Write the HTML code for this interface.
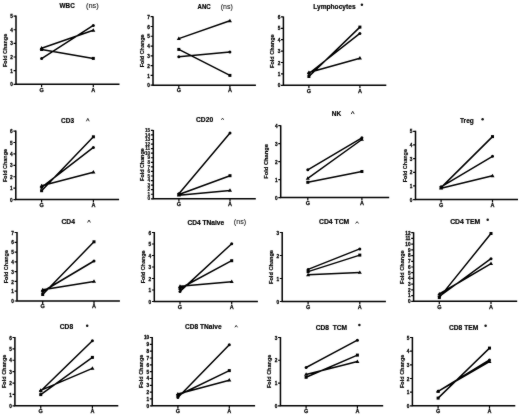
<!DOCTYPE html>
<html><head><meta charset="utf-8"><style>
html,body{margin:0;padding:0;background:#fff;}
body{width:520px;height:415px;overflow:hidden;}
#w{filter:grayscale(1);width:520px;height:415px;}
svg{display:block;font-family:"Liberation Sans",sans-serif;}
</style></head><body><div id="w">
<svg width="520" height="415" viewBox="0 0 520 415">
<defs><filter id="bl" x="0" y="0" width="520" height="415" filterUnits="userSpaceOnUse" color-interpolation-filters="sRGB"><feConvolveMatrix order="3" kernelMatrix="1 2 1 2 36 2 1 2 1" divisor="48" edgeMode="duplicate"/></filter></defs>
<g filter="url(#bl)">
<rect width="520" height="415" fill="#fff"/>
<g><path d="M16.00 15.60V84.30H119.50" fill="none" stroke="#000" stroke-width="1.5"/><path d="M13.60 84.30H16.00 M13.60 70.66H16.00 M13.60 57.02H16.00 M13.60 43.38H16.00 M13.60 29.74H16.00 M13.60 16.10H16.00" stroke="#000" stroke-width="1.2"/><path d="M41.60 84.30V87.30M93.30 84.30V87.30" stroke="#000" stroke-width="1.2"/><g transform="scale(0.8 1)" font-size="5.9" text-anchor="end" font-weight="bold" fill="#000" stroke="#000" stroke-width="0.3"><text x="16.12" y="86.42">0</text><text x="16.12" y="72.78">1</text><text x="16.12" y="59.14">2</text><text x="16.12" y="45.50">3</text><text x="16.12" y="31.86">4</text><text x="16.12" y="18.22">5</text></g><g font-size="5.5" text-anchor="middle" font-weight="bold" fill="#000" stroke="#000" stroke-width="0.25"><text x="41.60" y="91.50">G</text><text x="93.30" y="91.50">A</text></g><text transform="translate(6.56 50.45) rotate(-90)" text-anchor="middle" font-size="5.60" font-weight="bold" fill="#000" stroke="#000" stroke-width="0.2" textLength="33.3" lengthAdjust="spacingAndGlyphs">Fold Change</text><text x="59.60" y="7.70" font-size="6.4" font-weight="bold" fill="#000" stroke="#000" stroke-width="0.18" textLength="15.10" lengthAdjust="spacingAndGlyphs" style="white-space:pre">WBC</text><text x="86.00" y="7.72" font-size="6.88" fill="#1a1a1a" stroke="#1a1a1a" stroke-width="0.1" textLength="12.75" lengthAdjust="spacingAndGlyphs">(ns)</text><path d="M41.60 58.60L93.30 25.40 M41.60 48.20L93.30 30.30 M41.60 49.50L93.30 58.40" stroke="#000" stroke-width="1.5" fill="none"/><g fill="#000"><circle cx="41.60" cy="58.60" r="1.50"/><circle cx="93.30" cy="25.40" r="1.50"/><path d="M41.60 46.10L43.62 49.55L39.58 49.55Z"/><path d="M93.30 28.20L95.33 31.65L91.27 31.65Z"/><rect x="40.10" y="48.00" width="3.00" height="3.00"/><rect x="91.80" y="56.90" width="3.00" height="3.00"/></g></g>
<g><path d="M153.00 16.20V85.20H255.90" fill="none" stroke="#000" stroke-width="1.5"/><path d="M150.60 85.20H153.00 M150.60 75.41H153.00 M150.60 65.63H153.00 M150.60 55.84H153.00 M150.60 46.06H153.00 M150.60 36.27H153.00 M150.60 26.49H153.00 M150.60 16.70H153.00" stroke="#000" stroke-width="1.2"/><path d="M178.80 85.20V88.20M229.90 85.20V88.20" stroke="#000" stroke-width="1.2"/><g transform="scale(0.8 1)" font-size="5.9" text-anchor="end" font-weight="bold" fill="#000" stroke="#000" stroke-width="0.3"><text x="187.38" y="87.32">0</text><text x="187.38" y="77.54">1</text><text x="187.38" y="67.75">2</text><text x="187.38" y="57.97">3</text><text x="187.38" y="48.18">4</text><text x="187.38" y="38.40">5</text><text x="187.38" y="28.61">6</text><text x="187.38" y="18.82">7</text></g><g font-size="5.5" text-anchor="middle" font-weight="bold" fill="#000" stroke="#000" stroke-width="0.25"><text x="178.80" y="92.40">G</text><text x="229.90" y="92.40">A</text></g><text transform="translate(143.89 50.85) rotate(-90)" text-anchor="middle" font-size="5.53" font-weight="bold" fill="#000" stroke="#000" stroke-width="0.2" textLength="32.9" lengthAdjust="spacingAndGlyphs">Fold Change</text><text x="197.50" y="8.85" font-size="6.4" font-weight="bold" fill="#000" stroke="#000" stroke-width="0.18" textLength="13.20" lengthAdjust="spacingAndGlyphs" style="white-space:pre">ANC</text><text x="220.80" y="9.21" font-size="7.96" fill="#1a1a1a" stroke="#1a1a1a" stroke-width="0.1" textLength="12.00" lengthAdjust="spacingAndGlyphs">(ns)</text><path d="M178.80 38.60L229.90 20.80 M178.80 49.40L229.90 75.40 M178.80 56.70L229.90 52.00" stroke="#000" stroke-width="1.5" fill="none"/><g fill="#000"><path d="M178.80 36.50L180.83 39.95L176.78 39.95Z"/><path d="M229.90 18.70L231.93 22.15L227.88 22.15Z"/><rect x="177.30" y="47.90" width="3.00" height="3.00"/><rect x="228.40" y="73.90" width="3.00" height="3.00"/><circle cx="178.80" cy="56.70" r="1.50"/><circle cx="229.90" cy="52.00" r="1.50"/></g></g>
<g><path d="M283.40 16.40V85.30H386.30" fill="none" stroke="#000" stroke-width="1.5"/><path d="M281.00 85.30H283.40 M281.00 73.90H283.40 M281.00 62.50H283.40 M281.00 51.10H283.40 M281.00 39.70H283.40 M281.00 28.30H283.40 M281.00 16.90H283.40" stroke="#000" stroke-width="1.2"/><path d="M308.90 85.30V88.30M359.90 85.30V88.30" stroke="#000" stroke-width="1.2"/><g transform="scale(0.8 1)" font-size="5.9" text-anchor="end" font-weight="bold" fill="#000" stroke="#000" stroke-width="0.3"><text x="350.37" y="87.42">0</text><text x="350.37" y="76.02">1</text><text x="350.37" y="64.62">2</text><text x="350.37" y="53.22">3</text><text x="350.37" y="41.82">4</text><text x="350.37" y="30.42">5</text><text x="350.37" y="19.02">6</text></g><g font-size="5.5" text-anchor="middle" font-weight="bold" fill="#000" stroke="#000" stroke-width="0.25"><text x="308.90" y="92.50">G</text><text x="359.90" y="92.50">A</text></g><text transform="translate(274.38 51.20) rotate(-90)" text-anchor="middle" font-size="5.65" font-weight="bold" fill="#000" stroke="#000" stroke-width="0.2" textLength="33.6" lengthAdjust="spacingAndGlyphs">Fold Change</text><text x="313.20" y="8.65" font-size="6.4" font-weight="bold" fill="#000" stroke="#000" stroke-width="0.18" textLength="42.40" lengthAdjust="spacingAndGlyphs" style="white-space:pre">Lymphocytes</text><circle cx="361.90" cy="4.80" r="1.25" fill="#111"/><path d="M308.90 76.50L359.90 27.10 M308.90 73.50L359.90 33.40 M308.90 72.50L359.90 58.20" stroke="#000" stroke-width="1.5" fill="none"/><g fill="#000"><rect x="307.40" y="75.00" width="3.00" height="3.00"/><rect x="358.40" y="25.60" width="3.00" height="3.00"/><circle cx="308.90" cy="73.50" r="1.50"/><circle cx="359.90" cy="33.40" r="1.50"/><path d="M308.90 70.40L310.92 73.85L306.88 73.85Z"/><path d="M359.90 56.10L361.92 59.55L357.88 59.55Z"/></g></g>
<g><path d="M15.80 130.60V199.60H119.10" fill="none" stroke="#000" stroke-width="1.5"/><path d="M13.40 199.60H15.80 M13.40 188.18H15.80 M13.40 176.77H15.80 M13.40 165.35H15.80 M13.40 153.93H15.80 M13.40 142.52H15.80 M13.40 131.10H15.80" stroke="#000" stroke-width="1.2"/><path d="M41.60 199.60V202.60M93.40 199.60V202.60" stroke="#000" stroke-width="1.2"/><g transform="scale(0.8 1)" font-size="5.9" text-anchor="end" font-weight="bold" fill="#000" stroke="#000" stroke-width="0.3"><text x="15.88" y="201.72">0</text><text x="15.88" y="190.31">1</text><text x="15.88" y="178.89">2</text><text x="15.88" y="167.47">3</text><text x="15.88" y="156.06">4</text><text x="15.88" y="144.64">5</text><text x="15.88" y="133.22">6</text></g><g font-size="5.5" text-anchor="middle" font-weight="bold" fill="#000" stroke="#000" stroke-width="0.25"><text x="41.60" y="206.80">G</text><text x="93.40" y="206.80">A</text></g><text transform="translate(7.05 165.50) rotate(-90)" text-anchor="middle" font-size="5.55" font-weight="bold" fill="#000" stroke="#000" stroke-width="0.2" textLength="33.0" lengthAdjust="spacingAndGlyphs">Fold Change</text><text x="61.00" y="123.10" font-size="6.4" font-weight="bold" fill="#000" stroke="#000" stroke-width="0.18" textLength="13.00" lengthAdjust="spacingAndGlyphs" style="white-space:pre">CD3</text><path d="M86.40 121.30L87.80 118.40L89.20 121.30" fill="none" stroke="#333" stroke-width="1"/><path d="M41.60 190.70L93.40 136.80 M41.60 187.40L93.40 147.40 M41.60 185.80L93.40 172.20" stroke="#000" stroke-width="1.5" fill="none"/><g fill="#000"><rect x="40.10" y="189.20" width="3.00" height="3.00"/><rect x="91.90" y="135.30" width="3.00" height="3.00"/><circle cx="41.60" cy="187.40" r="1.50"/><circle cx="93.40" cy="147.40" r="1.50"/><path d="M41.60 183.70L43.62 187.15L39.58 187.15Z"/><path d="M93.40 170.10L95.43 173.55L91.38 173.55Z"/></g></g>
<g><path d="M153.30 129.90V198.80H255.80" fill="none" stroke="#000" stroke-width="1.5"/><path d="M150.90 198.80H153.30 M150.90 194.24H153.30 M150.90 189.68H153.30 M150.90 185.12H153.30 M150.90 180.56H153.30 M150.90 176.00H153.30 M150.90 171.44H153.30 M150.90 166.88H153.30 M150.90 162.32H153.30 M150.90 157.76H153.30 M150.90 153.20H153.30 M150.90 148.64H153.30 M150.90 144.08H153.30 M150.90 139.52H153.30 M150.90 134.96H153.30 M150.90 130.40H153.30" stroke="#000" stroke-width="1.2"/><path d="M178.90 198.80V201.80M230.00 198.80V201.80" stroke="#000" stroke-width="1.2"/><g transform="scale(1.0 1)" font-size="4.7" text-anchor="end" font-weight="bold" fill="#000" stroke="#000" stroke-width="0.15"><text x="150.20" y="200.49">0</text><text x="150.20" y="195.93">1</text><text x="150.20" y="191.37">2</text><text x="150.20" y="186.81">3</text><text x="150.20" y="182.25">4</text><text x="150.20" y="177.69">5</text><text x="150.20" y="173.13">6</text><text x="150.20" y="168.57">7</text><text x="150.20" y="164.01">8</text><text x="150.20" y="159.45">9</text><text x="150.20" y="154.89">10</text><text x="150.20" y="150.33">11</text><text x="150.20" y="145.77">12</text><text x="150.20" y="141.21">13</text><text x="150.20" y="136.65">14</text><text x="150.20" y="132.09">15</text></g><g font-size="5.5" text-anchor="middle" font-weight="bold" fill="#000" stroke="#000" stroke-width="0.25"><text x="178.90" y="206.00">G</text><text x="230.00" y="206.00">A</text></g><text transform="translate(144.23 164.60) rotate(-90)" text-anchor="middle" font-size="5.48" font-weight="bold" fill="#000" stroke="#000" stroke-width="0.2" textLength="32.6" lengthAdjust="spacingAndGlyphs">Fold Change</text><text x="196.00" y="121.70" font-size="6.4" font-weight="bold" fill="#000" stroke="#000" stroke-width="0.18" textLength="17.10" lengthAdjust="spacingAndGlyphs" style="white-space:pre">CD20</text><path d="M221.40 119.80L222.55 118.10L223.70 119.80" fill="none" stroke="#333" stroke-width="1"/><path d="M178.90 193.70L230.00 133.10 M178.90 194.50L230.00 175.70 M178.90 195.20L230.00 190.40" stroke="#000" stroke-width="1.5" fill="none"/><g fill="#000"><circle cx="178.90" cy="193.70" r="1.50"/><circle cx="230.00" cy="133.10" r="1.50"/><rect x="177.40" y="193.00" width="3.00" height="3.00"/><rect x="228.50" y="174.20" width="3.00" height="3.00"/><path d="M178.90 193.10L180.93 196.55L176.88 196.55Z"/><path d="M230.00 188.30L232.03 191.75L227.97 191.75Z"/></g></g>
<g><path d="M280.70 125.20V197.60H389.20" fill="none" stroke="#000" stroke-width="1.5"/><path d="M278.30 197.60H280.70 M278.30 179.62H280.70 M278.30 161.65H280.70 M278.30 143.68H280.70 M278.30 125.70H280.70" stroke="#000" stroke-width="1.2"/><path d="M307.80 197.60V200.60M361.90 197.60V200.60" stroke="#000" stroke-width="1.2"/><g transform="scale(0.8 1)" font-size="5.9" text-anchor="end" font-weight="bold" fill="#000" stroke="#000" stroke-width="0.3"><text x="347.00" y="199.72">0</text><text x="347.00" y="181.75">1</text><text x="347.00" y="163.77">2</text><text x="347.00" y="145.80">3</text><text x="347.00" y="127.82">4</text></g><g font-size="5.5" text-anchor="middle" font-weight="bold" fill="#000" stroke="#000" stroke-width="0.25"><text x="307.80" y="204.80">G</text><text x="361.90" y="204.80">A</text></g><text transform="translate(268.23 161.40) rotate(-90)" text-anchor="middle" font-size="5.85" font-weight="bold" fill="#000" stroke="#000" stroke-width="0.2" textLength="34.8" lengthAdjust="spacingAndGlyphs">Fold Change</text><text x="331.80" y="115.90" font-size="6.4" font-weight="bold" fill="#000" stroke="#000" stroke-width="0.18" textLength="9.40" lengthAdjust="spacingAndGlyphs" style="white-space:pre">NK</text><path d="M351.20 114.10L352.70 111.30L354.20 114.10" fill="none" stroke="#333" stroke-width="1"/><path d="M307.80 169.80L361.90 137.80 M307.80 178.30L361.90 139.50 M307.80 182.30L361.90 171.50" stroke="#000" stroke-width="1.5" fill="none"/><g fill="#000"><circle cx="307.80" cy="169.80" r="1.50"/><circle cx="361.90" cy="137.80" r="1.50"/><path d="M307.80 176.20L309.82 179.65L305.78 179.65Z"/><path d="M361.90 137.40L363.92 140.85L359.88 140.85Z"/><rect x="306.30" y="180.80" width="3.00" height="3.00"/><rect x="360.40" y="170.00" width="3.00" height="3.00"/></g></g>
<g><path d="M415.50 130.80V199.60H518.00" fill="none" stroke="#000" stroke-width="1.5"/><path d="M413.10 199.60H415.50 M413.10 185.94H415.50 M413.10 172.28H415.50 M413.10 158.62H415.50 M413.10 144.96H415.50 M413.10 131.30H415.50" stroke="#000" stroke-width="1.2"/><path d="M441.10 199.60V202.60M492.50 199.60V202.60" stroke="#000" stroke-width="1.2"/><g transform="scale(0.8 1)" font-size="5.9" text-anchor="end" font-weight="bold" fill="#000" stroke="#000" stroke-width="0.3"><text x="515.50" y="201.72">0</text><text x="515.50" y="188.06">1</text><text x="515.50" y="174.40">2</text><text x="515.50" y="160.74">3</text><text x="515.50" y="147.08">4</text><text x="515.50" y="133.42">5</text></g><g font-size="5.5" text-anchor="middle" font-weight="bold" fill="#000" stroke="#000" stroke-width="0.25"><text x="441.10" y="206.80">G</text><text x="492.50" y="206.80">A</text></g><text transform="translate(406.86 165.65) rotate(-90)" text-anchor="middle" font-size="5.60" font-weight="bold" fill="#000" stroke="#000" stroke-width="0.2" textLength="33.3" lengthAdjust="spacingAndGlyphs">Fold Change</text><text x="460.00" y="123.10" font-size="6.4" font-weight="bold" fill="#000" stroke="#000" stroke-width="0.18" textLength="13.75" lengthAdjust="spacingAndGlyphs" style="white-space:pre">Treg</text><circle cx="482.60" cy="119.20" r="1.25" fill="#111"/><path d="M441.10 187.60L492.50 136.60 M441.10 186.80L492.50 156.30 M441.10 188.20L492.50 175.80" stroke="#000" stroke-width="1.5" fill="none"/><g fill="#000"><rect x="439.60" y="186.10" width="3.00" height="3.00"/><rect x="491.00" y="135.10" width="3.00" height="3.00"/><circle cx="441.10" cy="186.80" r="1.50"/><circle cx="492.50" cy="156.30" r="1.50"/><path d="M441.10 186.10L443.12 189.55L439.08 189.55Z"/><path d="M492.50 173.70L494.52 177.15L490.48 177.15Z"/></g></g>
<g><path d="M17.00 232.00V301.00H119.90" fill="none" stroke="#000" stroke-width="1.5"/><path d="M14.60 301.00H17.00 M14.60 291.21H17.00 M14.60 281.43H17.00 M14.60 271.64H17.00 M14.60 261.86H17.00 M14.60 252.07H17.00 M14.60 242.29H17.00 M14.60 232.50H17.00" stroke="#000" stroke-width="1.2"/><path d="M42.70 301.00V304.00M94.00 301.00V304.00" stroke="#000" stroke-width="1.2"/><g transform="scale(0.8 1)" font-size="5.9" text-anchor="end" font-weight="bold" fill="#000" stroke="#000" stroke-width="0.3"><text x="17.38" y="303.12">0</text><text x="17.38" y="293.34">1</text><text x="17.38" y="283.55">2</text><text x="17.38" y="273.77">3</text><text x="17.38" y="263.98">4</text><text x="17.38" y="254.20">5</text><text x="17.38" y="244.41">6</text><text x="17.38" y="234.62">7</text></g><g font-size="5.5" text-anchor="middle" font-weight="bold" fill="#000" stroke="#000" stroke-width="0.25"><text x="42.70" y="308.20">G</text><text x="94.00" y="308.20">A</text></g><text transform="translate(7.76 266.65) rotate(-90)" text-anchor="middle" font-size="5.60" font-weight="bold" fill="#000" stroke="#000" stroke-width="0.2" textLength="33.3" lengthAdjust="spacingAndGlyphs">Fold Change</text><text x="61.50" y="224.40" font-size="6.4" font-weight="bold" fill="#000" stroke="#000" stroke-width="0.18" textLength="13.50" lengthAdjust="spacingAndGlyphs" style="white-space:pre">CD4</text><path d="M87.60 222.50L89.00 220.00L90.40 222.50" fill="none" stroke="#333" stroke-width="1"/><path d="M42.70 294.50L94.00 241.80 M42.70 291.50L94.00 261.00 M42.70 289.80L94.00 281.40" stroke="#000" stroke-width="1.5" fill="none"/><g fill="#000"><rect x="41.20" y="293.00" width="3.00" height="3.00"/><rect x="92.50" y="240.30" width="3.00" height="3.00"/><circle cx="42.70" cy="291.50" r="1.50"/><circle cx="94.00" cy="261.00" r="1.50"/><path d="M42.70 287.70L44.73 291.15L40.68 291.15Z"/><path d="M94.00 279.30L96.03 282.75L91.97 282.75Z"/></g></g>
<g><path d="M154.30 232.00V301.50H257.90" fill="none" stroke="#000" stroke-width="1.5"/><path d="M151.90 301.50H154.30 M151.90 290.00H154.30 M151.90 278.50H154.30 M151.90 267.00H154.30 M151.90 255.50H154.30 M151.90 244.00H154.30 M151.90 232.50H154.30" stroke="#000" stroke-width="1.2"/><path d="M180.00 301.50V304.50M231.70 301.50V304.50" stroke="#000" stroke-width="1.2"/><g transform="scale(0.8 1)" font-size="5.9" text-anchor="end" font-weight="bold" fill="#000" stroke="#000" stroke-width="0.3"><text x="189.00" y="303.62">0</text><text x="189.00" y="292.12">1</text><text x="189.00" y="280.62">2</text><text x="189.00" y="269.12">3</text><text x="189.00" y="257.62">4</text><text x="189.00" y="246.12">5</text><text x="189.00" y="234.62">6</text></g><g font-size="5.5" text-anchor="middle" font-weight="bold" fill="#000" stroke="#000" stroke-width="0.25"><text x="180.00" y="308.70">G</text><text x="231.70" y="308.70">A</text></g><text transform="translate(145.04 266.85) rotate(-90)" text-anchor="middle" font-size="5.53" font-weight="bold" fill="#000" stroke="#000" stroke-width="0.2" textLength="32.9" lengthAdjust="spacingAndGlyphs">Fold Change</text><text x="187.40" y="224.50" font-size="6.4" font-weight="bold" fill="#000" stroke="#000" stroke-width="0.18" textLength="36.70" lengthAdjust="spacingAndGlyphs" style="white-space:pre">CD4 TNaive</text><text x="233.80" y="224.27" font-size="7.63" fill="#1a1a1a" stroke="#1a1a1a" stroke-width="0.1" textLength="12.40" lengthAdjust="spacingAndGlyphs">(ns)</text><path d="M180.00 291.40L231.70 243.80 M180.00 288.50L231.70 260.70 M180.00 286.30L231.70 281.70" stroke="#000" stroke-width="1.5" fill="none"/><g fill="#000"><circle cx="180.00" cy="291.40" r="1.50"/><circle cx="231.70" cy="243.80" r="1.50"/><rect x="178.50" y="287.00" width="3.00" height="3.00"/><rect x="230.20" y="259.20" width="3.00" height="3.00"/><path d="M180.00 284.20L182.03 287.65L177.97 287.65Z"/><path d="M231.70 279.60L233.72 283.05L229.67 283.05Z"/></g></g>
<g><path d="M282.20 232.00V301.50H385.90" fill="none" stroke="#000" stroke-width="1.5"/><path d="M279.80 301.50H282.20 M279.80 278.50H282.20 M279.80 255.50H282.20 M279.80 232.50H282.20" stroke="#000" stroke-width="1.2"/><path d="M308.10 301.50V304.50M359.80 301.50V304.50" stroke="#000" stroke-width="1.2"/><g transform="scale(0.8 1)" font-size="5.9" text-anchor="end" font-weight="bold" fill="#000" stroke="#000" stroke-width="0.3"><text x="348.87" y="303.62">0</text><text x="348.87" y="280.62">1</text><text x="348.87" y="257.62">2</text><text x="348.87" y="234.62">3</text></g><g font-size="5.5" text-anchor="middle" font-weight="bold" fill="#000" stroke="#000" stroke-width="0.25"><text x="308.10" y="308.70">G</text><text x="359.80" y="308.70">A</text></g><text transform="translate(273.44 267.00) rotate(-90)" text-anchor="middle" font-size="5.72" font-weight="bold" fill="#000" stroke="#000" stroke-width="0.2" textLength="34.0" lengthAdjust="spacingAndGlyphs">Fold Change</text><text x="319.00" y="224.40" font-size="6.4" font-weight="bold" fill="#000" stroke="#000" stroke-width="0.18" textLength="30.20" lengthAdjust="spacingAndGlyphs" style="white-space:pre">CD4 TCM</text><path d="M355.60 223.50L357.10 221.60L358.60 223.50" fill="none" stroke="#333" stroke-width="1"/><path d="M308.10 269.40L359.80 248.90 M308.10 271.60L359.80 255.10 M308.10 274.80L359.80 272.50" stroke="#000" stroke-width="1.5" fill="none"/><g fill="#000"><circle cx="308.10" cy="269.40" r="1.50"/><circle cx="359.80" cy="248.90" r="1.50"/><rect x="306.60" y="270.10" width="3.00" height="3.00"/><rect x="358.30" y="253.60" width="3.00" height="3.00"/><path d="M308.10 272.70L310.12 276.15L306.08 276.15Z"/><path d="M359.80 270.40L361.82 273.85L357.78 273.85Z"/></g></g>
<g><path d="M413.60 232.20V301.30H517.20" fill="none" stroke="#000" stroke-width="1.5"/><path d="M411.20 301.30H413.60 M411.20 295.58H413.60 M411.20 289.87H413.60 M411.20 284.15H413.60 M411.20 278.43H413.60 M411.20 272.72H413.60 M411.20 267.00H413.60 M411.20 261.28H413.60 M411.20 255.57H413.60 M411.20 249.85H413.60 M411.20 244.13H413.60 M411.20 238.42H413.60 M411.20 232.70H413.60" stroke="#000" stroke-width="1.2"/><path d="M439.30 301.30V304.30M491.00 301.30V304.30" stroke="#000" stroke-width="1.2"/><g transform="scale(0.9 1)" font-size="5.2" text-anchor="end" font-weight="bold" fill="#000" stroke="#000" stroke-width="0.3"><text x="456.11" y="303.17">0</text><text x="456.11" y="297.46">1</text><text x="456.11" y="291.74">2</text><text x="456.11" y="286.02">3</text><text x="456.11" y="280.31">4</text><text x="456.11" y="274.59">5</text><text x="456.11" y="268.87">6</text><text x="456.11" y="263.16">7</text><text x="456.11" y="257.44">8</text><text x="456.11" y="251.72">9</text><text x="456.11" y="246.01">10</text><text x="456.11" y="240.29">11</text><text x="456.11" y="234.57">12</text></g><g font-size="5.5" text-anchor="middle" font-weight="bold" fill="#000" stroke="#000" stroke-width="0.25"><text x="439.30" y="308.50">G</text><text x="491.00" y="308.50">A</text></g><text transform="translate(404.33 267.20) rotate(-90)" text-anchor="middle" font-size="5.65" font-weight="bold" fill="#000" stroke="#000" stroke-width="0.2" textLength="33.6" lengthAdjust="spacingAndGlyphs">Fold Change</text><text x="450.20" y="224.10" font-size="6.4" font-weight="bold" fill="#000" stroke="#000" stroke-width="0.18" textLength="30.00" lengthAdjust="spacingAndGlyphs" style="white-space:pre">CD4 TEM</text><circle cx="487.70" cy="219.80" r="1.25" fill="#111"/><path d="M439.30 297.60L491.00 233.50 M439.30 296.50L491.00 258.70 M439.30 294.00L491.00 263.55" stroke="#000" stroke-width="1.5" fill="none"/><g fill="#000"><rect x="437.80" y="296.10" width="3.00" height="3.00"/><rect x="489.50" y="232.00" width="3.00" height="3.00"/><circle cx="439.30" cy="296.50" r="1.50"/><circle cx="491.00" cy="258.70" r="1.50"/><path d="M439.30 291.90L441.32 295.35L437.28 295.35Z"/><path d="M491.00 261.45L493.02 264.90L488.98 264.90Z"/></g></g>
<g><path d="M14.90 337.00V405.80H118.30" fill="none" stroke="#000" stroke-width="1.5"/><path d="M12.50 405.80H14.90 M12.50 394.42H14.90 M12.50 383.03H14.90 M12.50 371.65H14.90 M12.50 360.27H14.90 M12.50 348.88H14.90 M12.50 337.50H14.90" stroke="#000" stroke-width="1.2"/><path d="M40.75 405.80V408.80M92.40 405.80V408.80" stroke="#000" stroke-width="1.2"/><g transform="scale(0.8 1)" font-size="5.9" text-anchor="end" font-weight="bold" fill="#000" stroke="#000" stroke-width="0.3"><text x="14.75" y="407.92">0</text><text x="14.75" y="396.54">1</text><text x="14.75" y="385.16">2</text><text x="14.75" y="373.77">3</text><text x="14.75" y="362.39">4</text><text x="14.75" y="351.01">5</text><text x="14.75" y="339.62">6</text></g><g font-size="5.5" text-anchor="middle" font-weight="bold" fill="#000" stroke="#000" stroke-width="0.25"><text x="40.75" y="413.00">G</text><text x="92.40" y="413.00">A</text></g><text transform="translate(6.06 371.35) rotate(-90)" text-anchor="middle" font-size="5.60" font-weight="bold" fill="#000" stroke="#000" stroke-width="0.2" textLength="33.3" lengthAdjust="spacingAndGlyphs">Fold Change</text><text x="59.80" y="329.30" font-size="6.4" font-weight="bold" fill="#000" stroke="#000" stroke-width="0.18" textLength="13.30" lengthAdjust="spacingAndGlyphs" style="white-space:pre">CD8</text><circle cx="87.20" cy="325.70" r="1.25" fill="#111"/><path d="M40.75 391.00L92.40 340.70 M40.75 394.60L92.40 357.40 M40.75 390.40L92.40 368.40" stroke="#000" stroke-width="1.5" fill="none"/><g fill="#000"><circle cx="40.75" cy="391.00" r="1.50"/><circle cx="92.40" cy="340.70" r="1.50"/><rect x="39.25" y="393.10" width="3.00" height="3.00"/><rect x="90.90" y="355.90" width="3.00" height="3.00"/><path d="M40.75 388.30L42.77 391.75L38.73 391.75Z"/><path d="M92.40 366.30L94.43 369.75L90.38 369.75Z"/></g></g>
<g><path d="M152.20 337.00V405.80H255.10" fill="none" stroke="#000" stroke-width="1.5"/><path d="M149.80 405.80H152.20 M149.80 398.97H152.20 M149.80 392.14H152.20 M149.80 385.31H152.20 M149.80 378.48H152.20 M149.80 371.65H152.20 M149.80 364.82H152.20 M149.80 357.99H152.20 M149.80 351.16H152.20 M149.80 344.33H152.20 M149.80 337.50H152.20" stroke="#000" stroke-width="1.2"/><path d="M177.90 405.80V408.80M229.30 405.80V408.80" stroke="#000" stroke-width="1.2"/><g transform="scale(0.9 1)" font-size="5.2" text-anchor="end" font-weight="bold" fill="#000" stroke="#000" stroke-width="0.3"><text x="165.67" y="407.67">0</text><text x="165.67" y="400.84">1</text><text x="165.67" y="394.01">2</text><text x="165.67" y="387.18">3</text><text x="165.67" y="380.35">4</text><text x="165.67" y="373.52">5</text><text x="165.67" y="366.69">6</text><text x="165.67" y="359.86">7</text><text x="165.67" y="353.03">8</text><text x="165.67" y="346.20">9</text><text x="165.67" y="339.37">10</text></g><g font-size="5.5" text-anchor="middle" font-weight="bold" fill="#000" stroke="#000" stroke-width="0.25"><text x="177.90" y="413.00">G</text><text x="229.30" y="413.00">A</text></g><text transform="translate(143.06 371.35) rotate(-90)" text-anchor="middle" font-size="5.60" font-weight="bold" fill="#000" stroke="#000" stroke-width="0.2" textLength="33.3" lengthAdjust="spacingAndGlyphs">Fold Change</text><text x="185.10" y="329.40" font-size="6.4" font-weight="bold" fill="#000" stroke="#000" stroke-width="0.18" textLength="36.60" lengthAdjust="spacingAndGlyphs" style="white-space:pre">CD8 TNaive</text><path d="M234.90 327.30L236.20 325.40L237.50 327.30" fill="none" stroke="#333" stroke-width="1"/><path d="M177.90 397.50L229.30 344.80 M177.90 395.50L229.30 370.60 M177.90 394.00L229.30 380.20" stroke="#000" stroke-width="1.5" fill="none"/><g fill="#000"><circle cx="177.90" cy="397.50" r="1.50"/><circle cx="229.30" cy="344.80" r="1.50"/><rect x="176.40" y="394.00" width="3.00" height="3.00"/><rect x="227.80" y="369.10" width="3.00" height="3.00"/><path d="M177.90 391.90L179.93 395.35L175.88 395.35Z"/><path d="M229.30 378.10L231.33 381.55L227.28 381.55Z"/></g></g>
<g><path d="M280.45 337.00V405.80H383.20" fill="none" stroke="#000" stroke-width="1.5"/><path d="M278.05 405.80H280.45 M278.05 383.03H280.45 M278.05 360.27H280.45 M278.05 337.50H280.45" stroke="#000" stroke-width="1.2"/><path d="M306.10 405.80V408.80M357.40 405.80V408.80" stroke="#000" stroke-width="1.2"/><g transform="scale(0.8 1)" font-size="5.9" text-anchor="end" font-weight="bold" fill="#000" stroke="#000" stroke-width="0.3"><text x="346.69" y="407.92">0</text><text x="346.69" y="385.16">1</text><text x="346.69" y="362.39">2</text><text x="346.69" y="339.62">3</text></g><g font-size="5.5" text-anchor="middle" font-weight="bold" fill="#000" stroke="#000" stroke-width="0.25"><text x="306.10" y="413.00">G</text><text x="357.40" y="413.00">A</text></g><text transform="translate(271.41 371.35) rotate(-90)" text-anchor="middle" font-size="5.60" font-weight="bold" fill="#000" stroke="#000" stroke-width="0.2" textLength="33.3" lengthAdjust="spacingAndGlyphs">Fold Change</text><text x="315.80" y="329.50" font-size="6.4" font-weight="bold" fill="#000" stroke="#000" stroke-width="0.18" textLength="31.30" lengthAdjust="spacingAndGlyphs" style="white-space:pre">CD8  TCM</text><circle cx="359.40" cy="324.90" r="1.25" fill="#111"/><path d="M306.10 367.50L357.40 340.20 M306.10 377.30L357.40 355.10 M306.10 374.40L357.40 361.60" stroke="#000" stroke-width="1.5" fill="none"/><g fill="#000"><circle cx="306.10" cy="367.50" r="1.50"/><circle cx="357.40" cy="340.20" r="1.50"/><rect x="304.60" y="375.80" width="3.00" height="3.00"/><rect x="355.90" y="353.60" width="3.00" height="3.00"/><path d="M306.10 372.30L308.12 375.75L304.08 375.75Z"/><path d="M357.40 359.50L359.42 362.95L355.38 362.95Z"/></g></g>
<g><path d="M412.40 337.00V405.80H515.30" fill="none" stroke="#000" stroke-width="1.5"/><path d="M410.00 405.80H412.40 M410.00 392.14H412.40 M410.00 378.48H412.40 M410.00 364.82H412.40 M410.00 351.16H412.40 M410.00 337.50H412.40" stroke="#000" stroke-width="1.2"/><path d="M438.10 405.80V408.80M489.50 405.80V408.80" stroke="#000" stroke-width="1.2"/><g transform="scale(0.8 1)" font-size="5.9" text-anchor="end" font-weight="bold" fill="#000" stroke="#000" stroke-width="0.3"><text x="511.62" y="407.92">0</text><text x="511.62" y="394.26">1</text><text x="511.62" y="380.60">2</text><text x="511.62" y="366.94">3</text><text x="511.62" y="353.28">4</text><text x="511.62" y="339.62">5</text></g><g font-size="5.5" text-anchor="middle" font-weight="bold" fill="#000" stroke="#000" stroke-width="0.25"><text x="438.10" y="413.00">G</text><text x="489.50" y="413.00">A</text></g><text transform="translate(403.61 371.35) rotate(-90)" text-anchor="middle" font-size="5.60" font-weight="bold" fill="#000" stroke="#000" stroke-width="0.2" textLength="33.3" lengthAdjust="spacingAndGlyphs">Fold Change</text><text x="449.00" y="329.50" font-size="6.4" font-weight="bold" fill="#000" stroke="#000" stroke-width="0.18" textLength="29.20" lengthAdjust="spacingAndGlyphs" style="white-space:pre">CD8 TEM</text><circle cx="485.60" cy="325.80" r="1.25" fill="#111"/><path d="M438.10 398.10L489.50 348.10 M438.10 391.30L489.50 359.90 M438.10 391.30L489.50 361.60" stroke="#000" stroke-width="1.5" fill="none"/><g fill="#000"><rect x="436.60" y="396.60" width="3.00" height="3.00"/><rect x="488.00" y="346.60" width="3.00" height="3.00"/><circle cx="438.10" cy="391.30" r="1.50"/><circle cx="489.50" cy="359.90" r="1.50"/><path d="M438.10 389.20L440.12 392.65L436.08 392.65Z"/><path d="M489.50 359.50L491.52 362.95L487.48 362.95Z"/></g></g>
</g>
</svg></div>
</body></html>
